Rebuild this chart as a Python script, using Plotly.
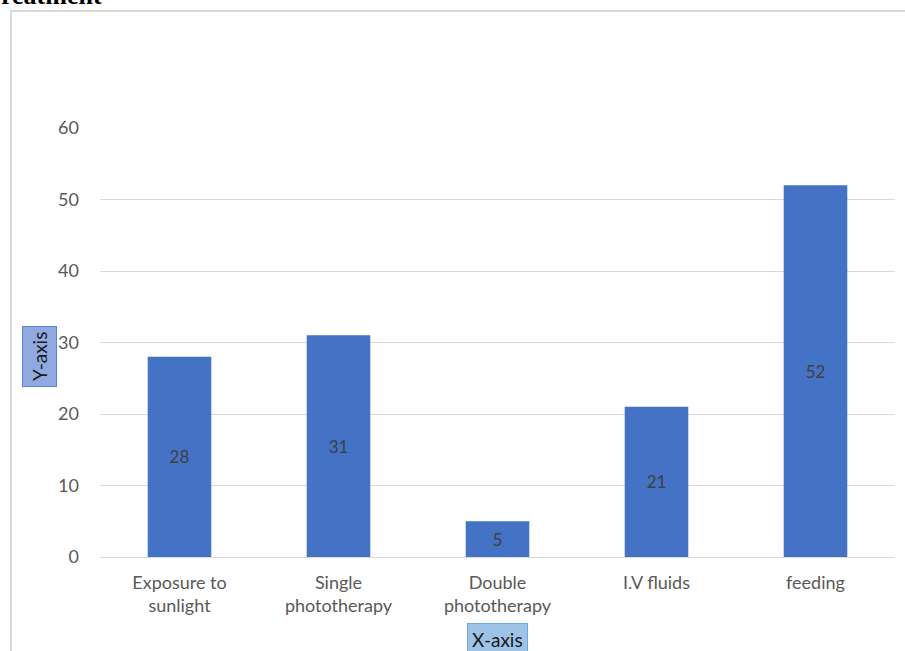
import plotly.graph_objects as go

# Treatment categories and counts
categories = ["Exposure to<br>sunlight", "Single<br>phototherapy", "Double<br>phototherapy",
              "I.V fluids", "feeding"]
counts = [28, 31, 5, 21, 52]
y_ticks = [0, 10, 20, 30, 40, 50, 60]

W, H = 905, 651
L, R, T, B = 100, 10, 128, 94
PW, PH = W - L - R, H - T - B


def px_x(px):
    return (px - L) / PW


def px_y(py):
    return (H - B - py) / PH


FONT = "Lato, Carlito, sans-serif"

fig = go.Figure()
fig.add_trace(go.Bar(
    x=categories, y=counts,
    marker=dict(color="#4472C4", line=dict(width=0)),
    width=0.4,
    text=[str(v) for v in counts],
    textposition="inside",
    insidetextanchor="middle",
    textfont=dict(family=FONT, size=17, color="#404040"),
    cliponaxis=False,
))

fig.update_layout(
    width=W, height=H,
    margin=dict(l=L, r=R, t=T, b=B, pad=0),
    paper_bgcolor="white", plot_bgcolor="white",
    showlegend=False,
    bargap=0.6,
    font=dict(family=FONT, size=18, color="#595959"),
    xaxis=dict(showgrid=False, showline=False, zeroline=False, ticks="",
               tickfont=dict(size=18, color="#595959"), ticklabelstandoff=13),
    yaxis=dict(range=[0, 60], tickvals=y_ticks, showgrid=True, gridcolor="#D9D9D9",
               gridwidth=1, zeroline=True, zerolinecolor="#D9D9D9", zerolinewidth=1,
               showline=False, ticks="", tickfont=dict(size=18, color="#595959"),
               ticklabelstandoff=20),
)

# chart frame
fig.add_shape(type="rect", xref="paper", yref="paper",
              x0=px_x(11), x1=px_x(915), y0=px_y(11), y1=px_y(665),
              line=dict(color="#D9D9D9", width=2), fillcolor="rgba(0,0,0,0)", layer="below")

# heading (partly outside the frame)
fig.add_annotation(text="<b>reatment</b>", xref="paper", yref="paper",
                   x=px_x(-1), y=px_y(6), xanchor="left", yanchor="bottom",
                   showarrow=False, yshift=-6,
                   font=dict(family="Liberation Serif, Times New Roman, serif", size=26, color="black"))

# axis title boxes
fig.add_annotation(text="Y-axis", xref="paper", yref="paper",
                   x=px_x(39), y=px_y(357), xanchor="center", yanchor="middle",
                   textangle=-90, showarrow=False,
                   font=dict(size=19, color="#1a1a1a"),
                   bgcolor="#90A9E0", bordercolor="#5B82D6", borderwidth=1, borderpad=5)
fig.add_annotation(text="X-axis", xref="paper", yref="paper",
                   x=px_x(497), y=px_y(639), xanchor="center", yanchor="middle",
                   showarrow=False,
                   font=dict(size=19, color="#1a1a1a"),
                   bgcolor="#9DC3E6", bordercolor="#6FA8DC", borderwidth=1, borderpad=4)

fig.write_html("out.html")
